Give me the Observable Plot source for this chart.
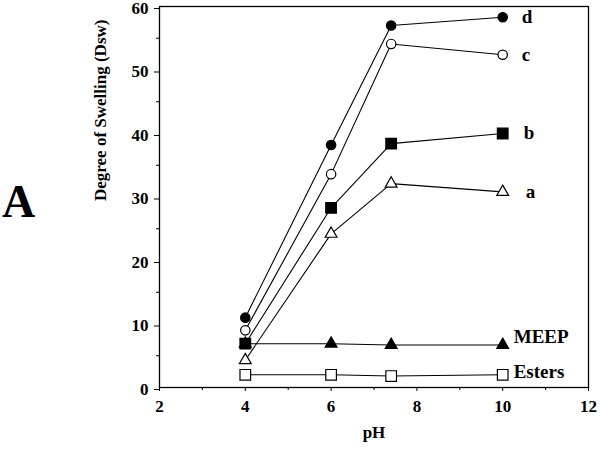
<!DOCTYPE html>
<html>
<head>
<meta charset="utf-8">
<script src="https://cdn.jsdelivr.net/npm/d3@7"></script>
<script src="https://cdn.jsdelivr.net/npm/@observablehq/plot@0.6"></script>
<style>
  html, body { margin: 0; padding: 0; background: #fff; }
  #chart { width: 600px; height: 451px; }
</style>
</head>
<body>
<div id="chart"></div>
<script>
// ---- data ----
const pH = [4, 6, 7.4, 10];
const seriesNames = ["d", "c", "b", "a", "MEEP", "Esters"];
const valuesD = [11.0, 38.2, 57.0, 58.3];
const valuesC = [9.0, 33.6, 54.1, 52.4];
const valuesB = [6.9, 28.3, 38.4, 40.0];
const valuesA = [4.3, 24.2, 32.1, 30.8];
const valuesMEEP = [6.9, 6.9, 6.7, 6.7];
const valuesEsters = [2.0, 2.0, 1.8, 2.0];
const xTicks = [2, 4, 6, 8, 10, 12];
const xMinorTicks = [3, 5, 7, 9, 11];
const yTicks = [0, 10, 20, 30, 40, 50, 60];
const yMinorTicks = [5, 15, 25, 35, 45, 55];
const xLabel = "pH";
const yLabel = "Degree of Swelling (Dsw)";
const panelLabel = "A";

// ---- styles (not data) ----
const style = {
  d: {symbol: "circle", fill: "black", r: 4.7, dx: 19, dy: 0},
  c: {symbol: "circle", fill: "white", r: 4.7, dx: 19, dy: 0},
  b: {symbol: "square", fill: "black", r: 6, dx: 21, dy: -1},
  a: {symbol: "triangle", fill: "white", r: 4.4, dx: 23, dy: 0},
  MEEP: {symbol: "triangle", fill: "black", r: 4.4, dx: 11, dy: -8},
  Esters: {symbol: "square", fill: "white", r: 6, dx: 11, dy: -3}
};

const allValues = [valuesD, valuesC, valuesB, valuesA, valuesMEEP, valuesEsters];
const rows = [];
seriesNames.forEach((s, i) => {
  pH.forEach((x, j) => rows.push({series: s, pH: x, value: allValues[i][j]}));
});

const font = "'Liberation Serif', 'Times New Roman', serif";
const marks = [];
marks.push(Plot.frame({stroke: "black", strokeWidth: 1.3}));
marks.push(Plot.axisX({ticks: xTicks, tickSize: 4, tickPadding: 8, fontSize: 17, fontWeight: "bold", label: null}));
marks.push(Plot.axisX({ticks: xMinorTicks, tickSize: 3, tickFormat: () => "", label: null}));
marks.push(Plot.axisY({ticks: yTicks, tickSize: 5, tickPadding: 6, fontSize: 17, fontWeight: "bold", dy: 2, label: null}));
marks.push(Plot.axisY({ticks: yMinorTicks, tickSize: 3, tickFormat: () => "", label: null}));

// axis titles
marks.push(Plot.text([xLabel], {frameAnchor: "bottom", text: d => d, dy: 50, fontSize: 17, fontWeight: "bold", fill: "black"}));
marks.push(Plot.text([yLabel], {frameAnchor: "left", text: d => d, rotate: -90, dx: -59, dy: 4, fontSize: 17, fontWeight: "bold", fill: "black"}));

seriesNames.forEach(s => {
  const data = rows.filter(r => r.series === s);
  marks.push(Plot.line(data, {x: "pH", y: "value", stroke: "black", strokeWidth: 1.1}));
});
seriesNames.forEach(s => {
  const data = rows.filter(r => r.series === s);
  const st = style[s];
  marks.push(Plot.dot(data, {x: "pH", y: "value", symbol: () => st.symbol, fill: st.fill,
    stroke: "black", strokeWidth: 1.2, r: st.r}));
  marks.push(Plot.text(data.slice(-1), {x: "pH", y: "value", text: "series", textAnchor: "start",
    dx: st.dx, dy: st.dy, fontSize: 19, fontWeight: "bold", fill: "black"}));
});
marks.push(Plot.text([panelLabel], {frameAnchor: "left", text: d => d, textAnchor: "middle",
  dx: -141, dy: 5, fontSize: 46, fontWeight: "bold", fill: "black"}));

const chart = Plot.plot({
  width: 600,
  height: 451,
  marginLeft: 159,
  marginRight: 12,
  marginTop: 6,
  marginBottom: 64,
  style: {fontFamily: font, fontWeight: "bold", fontSize: "15px", color: "black", background: "white"},
  x: {domain: [2, 12]},
  y: {domain: [0, 60]},
  symbol: {type: "identity"},
  marks
});
document.getElementById("chart").appendChild(chart);
</script>
</body>
</html>
